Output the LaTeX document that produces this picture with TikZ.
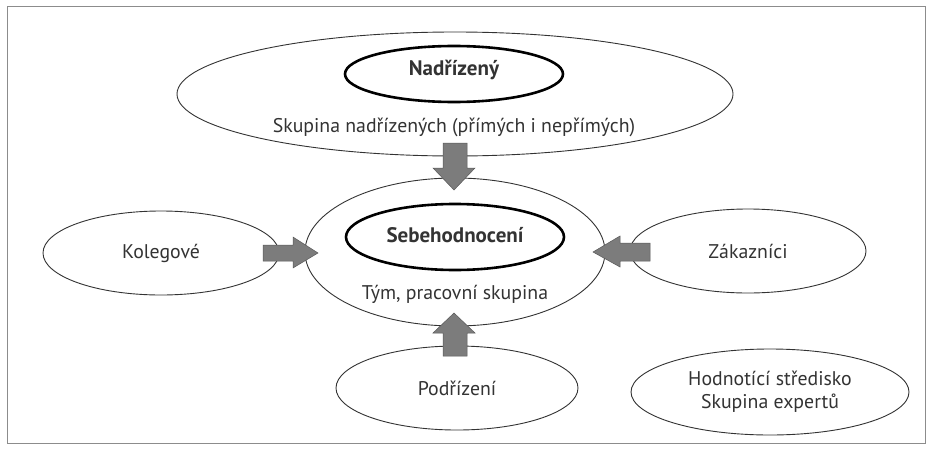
\documentclass[tikz,border=0pt]{standalone}
\usepackage{fontspec}
\setmainfont{PT Sans}
\usetikzlibrary{shapes.geometric}
\definecolor{ink}{HTML}{333333}
\definecolor{arrowgray}{HTML}{7C7C7C}
\tikzset{
  oval/.style={ellipse, draw=ink, line width=0.9pt, fill=white, inner sep=0pt, text=ink, font=\fontsize{19.8}{23}\selectfont},
  thickoval/.style={ellipse, draw=black, line width=2.6pt, inner sep=0pt},
  lbl/.style={text=ink, font=\fontsize{19.8}{23}\selectfont, inner sep=0pt},
  boldlbl/.style={text=ink, font=\bfseries\fontsize{21}{24}\selectfont, inner sep=0pt},
  blockarrow/.style={fill=arrowgray, draw=black!65, line width=0.5pt},
  frame/.style={draw=black!45, line width=1pt}
}
\begin{document}
\begin{tikzpicture}[x=1pt,y=-1pt]
\useasboundingbox (0,0) rectangle (931,455);
\draw[frame] (7,6) rectangle (925,443);
% top group
\node[oval, minimum width=556pt, minimum height=124pt] (top) at (455,94) {};
\node[thickoval, minimum width=218pt, minimum height=56pt] (nad) at (454,74) {};
\node[boldlbl] (nadt) at (454,70) {Nadřízený};
\node[lbl] (skn) at (454,127) {Skupina nadřízených (přímých i nepřímých)};
% centre group
\node[oval, minimum width=300pt, minimum height=148pt] (mid) at (455,252) {};
\node[thickoval, minimum width=218pt, minimum height=66pt] (seb) at (455,237) {};
\node[boldlbl] (sebt) at (455,235) {Sebehodnocení};
\node[lbl] (tym) at (455,294) {Tým, pracovní skupina};
% side and bottom ovals
\node[oval, minimum width=236pt, minimum height=84pt] (kol) at (161,253) {Kolegové};
\node[oval, minimum width=236pt, minimum height=84pt] (zak) at (748,251) {Zákazníci};
\node[oval, minimum width=242pt, minimum height=84pt] (pod) at (457,388) {Podřízení};
\node[oval, minimum width=278pt, minimum height=86pt, align=center] (hod) at (770,392) {Hodnotící středisko\\Skupina expertů};
% block arrows
\draw[blockarrow] (443,143) -- (467,143) -- (467,168) -- (475,168) -- (454,190) -- (433,168) -- (443,168) -- cycle;
\draw[blockarrow] (443,356) -- (467,356) -- (467,333) -- (475,333) -- (454,313) -- (433,333) -- (443,333) -- cycle;
\draw[blockarrow] (263,245) -- (293,245) -- (293,237) -- (318,253) -- (293,268) -- (293,261) -- (263,261) -- cycle;
\draw[blockarrow] (650,243) -- (620,243) -- (620,236) -- (593,252) -- (620,267) -- (620,261) -- (650,261) -- cycle;
\end{tikzpicture}
\end{document}
